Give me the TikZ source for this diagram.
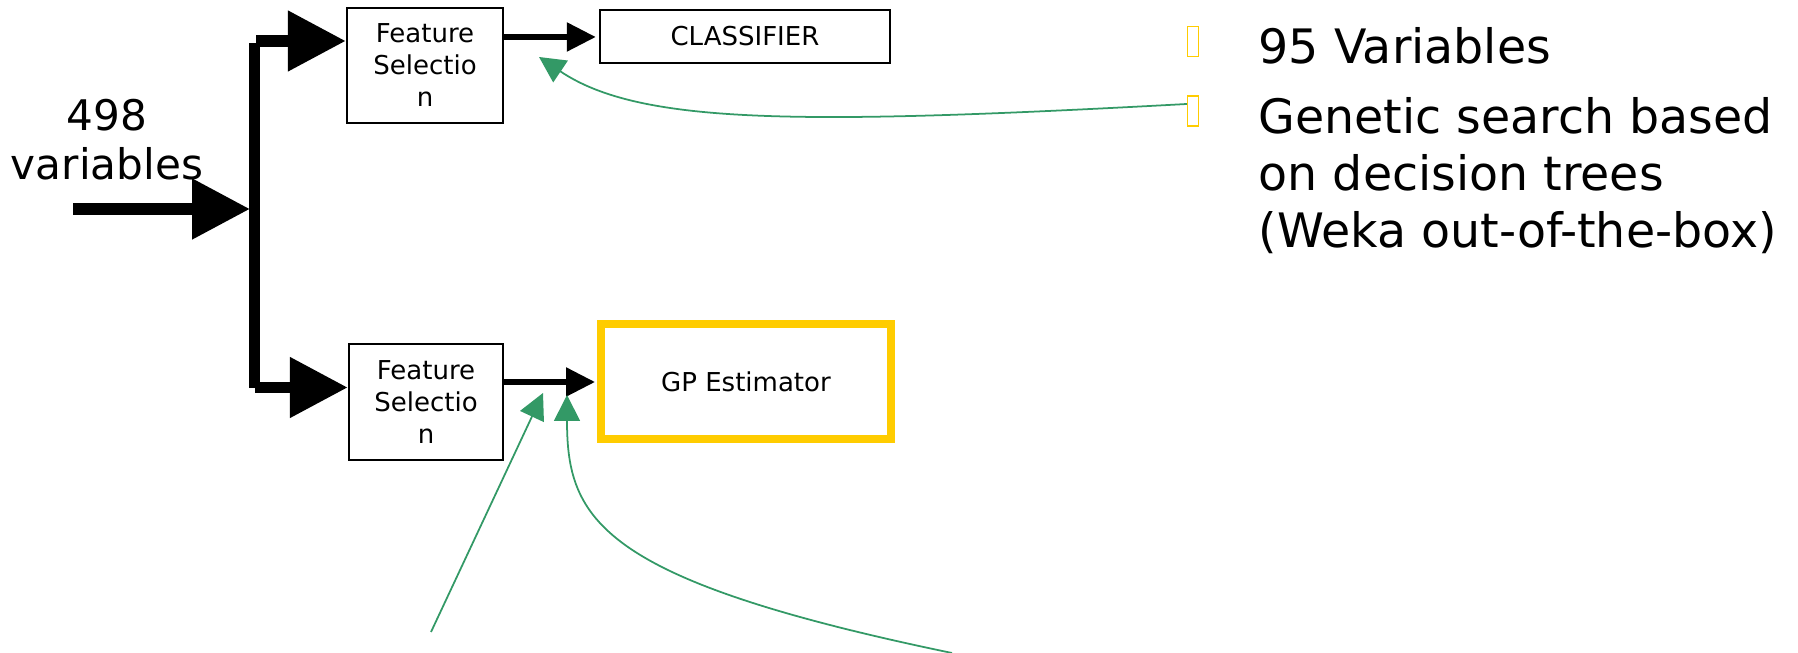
\documentclass[tikz,border=0pt]{standalone}
\usepackage{fontspec}
\setmainfont{DejaVu Sans}
\usetikzlibrary{arrows.meta, positioning}

\definecolor{notegreen}{RGB}{51,153,102}
\definecolor{markyellow}{RGB}{255,204,0}

\begin{document}
\begin{tikzpicture}[
  x=0.1mm, y=-0.1mm,
  box/.style={rectangle, draw=black, line width=0.7pt, inner sep=0pt,
              font=\fontsize{7.4}{9.1}\selectfont, align=center},
  feed/.style={-{Triangle[length=5.8mm,width=5.8mm]}, line width=1.15mm},
  bus/.style={line width=1.1mm},
  pass/.style={-{Triangle[length=2.9mm,width=2.8mm]}, line width=0.55mm},
  note/.style={-{Triangle[length=2.6mm,width=2.6mm]}, notegreen, line width=0.5pt},
  bulletbox/.style={rectangle, draw=markyellow, line width=0.14mm, inner sep=0pt,
               minimum width=1.1mm, minimum height=3.0mm},
  big/.style={font=\fontsize{13.5}{16.2}\selectfont, align=left, inner sep=0pt}
]
  \useasboundingbox (0,0) rectangle (1798,653);

  % blocks
  \node[box, minimum width=15.6mm, minimum height=11.5mm] (fs1) at (425,65.5)
    {Feature\\Selectio\\n};
  \node[box, minimum width=15.4mm, minimum height=11.6mm] (fs2) at (426,402)
    {Feature\\Selectio\\n};
  \node[box, minimum width=29mm, minimum height=5.3mm] (clf) at (745,36.5) {CLASSIFIER};
  \node[box, draw=markyellow, line width=0.8mm, minimum width=29mm,
        minimum height=11.5mm] (gp) at (746,381.5) {GP Estimator};

  % input
  \node[font=\fontsize{12}{14}\selectfont, align=center] (invars) at (107,139.5)
    {498\\variables};
  \coordinate (src) at (73,209);
  \coordinate (jin) at (250,209);
  \coordinate (jtop) at (256,41);
  \coordinate (jbot) at (255,387.5);

  \draw[feed] (src) -- (jin);
  \draw[bus] (254.5,43) -- (254.5,388);
  \draw[feed] (jtop) -- (jtop -| fs1.west);
  \draw[feed] (jbot) -- (jbot -| fs2.west);

  \draw[pass] (fs1.east |- 0,37) -- ([xshift=-0.3mm]clf.west |- 0,37);
  \draw[pass] (fs2.east |- 0,382) -- ([xshift=-0.2mm]gp.west |- 0,382);

  % notes
  \node[bulletbox] (m1) at (1193,41.5) {};
  \node[bulletbox] (m2) at (1193,111) {};
  \node[big, anchor=west] (t1) at (1258,46) {95 Variables};
  \node[big, anchor=north west] (t2) at (1258,97)
    {Genetic search based\\on decision trees\\(Weka out-of-the-box)};

  \coordinate (hitA) at (539,57);
  \coordinate (hitB) at (543,393);
  \coordinate (hitC) at (567,395);
  \coordinate (endB) at (431,632);
  \coordinate (endC) at (952,653);

  \draw[note] ([yshift=0.7mm]m2.west) .. controls (800,125) and (640,125) .. (hitA);
  \draw[note] (endB) -- (hitB);
  \draw[note] (endC) .. controls (600,580) and (567,520) .. (hitC);
\end{tikzpicture}
\end{document}
